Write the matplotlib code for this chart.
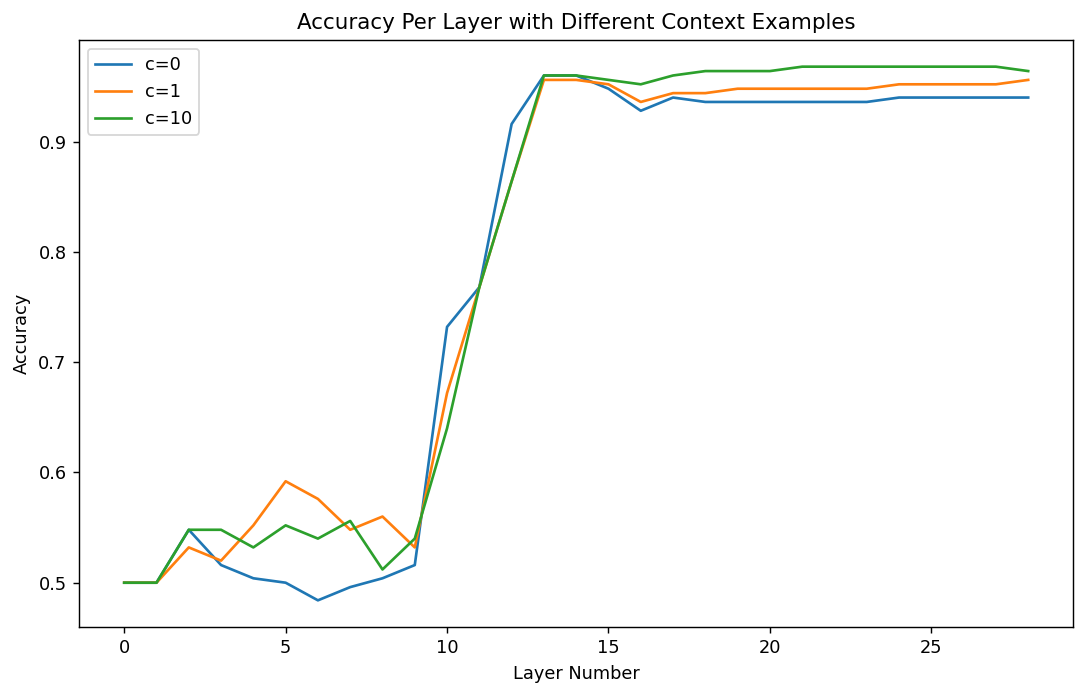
import matplotlib
matplotlib.use("Agg")
import matplotlib.pyplot as plt

layers = list(range(29))

acc_c0 = [0.5, 0.5, 0.548, 0.516, 0.504, 0.5, 0.484, 0.496, 0.504, 0.516,
          0.732, 0.768, 0.916, 0.96, 0.96, 0.948, 0.928, 0.94, 0.936, 0.936,
          0.936, 0.936, 0.936, 0.936, 0.94, 0.94, 0.94, 0.94, 0.94]
acc_c1 = [0.5, 0.5, 0.532, 0.52, 0.552, 0.592, 0.576, 0.548, 0.56, 0.532,
          0.672, 0.768, 0.864, 0.956, 0.956, 0.952, 0.936, 0.944, 0.944, 0.948,
          0.948, 0.948, 0.948, 0.948, 0.952, 0.952, 0.952, 0.952, 0.956]
acc_c10 = [0.5, 0.5, 0.548, 0.548, 0.532, 0.552, 0.54, 0.556, 0.512, 0.54,
           0.64, 0.768, 0.864, 0.96, 0.96, 0.956, 0.952, 0.96, 0.964, 0.964,
           0.964, 0.968, 0.968, 0.968, 0.968, 0.968, 0.968, 0.968, 0.964]

# reference looks like a default-styled figure rendered at ~128 dpi
dpi = 128
fig = plt.figure(figsize=(1075 / dpi, 687 / dpi), dpi=dpi)
ax = fig.add_axes([0.0735, 0.0873, 0.925, 0.8545])

ax.plot(layers, acc_c0, label="c=0")
ax.plot(layers, acc_c1, label="c=1")
ax.plot(layers, acc_c10, label="c=10")

ax.set_title("Accuracy Per Layer with Different Context Examples")
ax.set_xlabel("Layer Number")
ax.set_ylabel("Accuracy")
ax.legend(loc="upper left")

fig.savefig("out.png", dpi=dpi)
